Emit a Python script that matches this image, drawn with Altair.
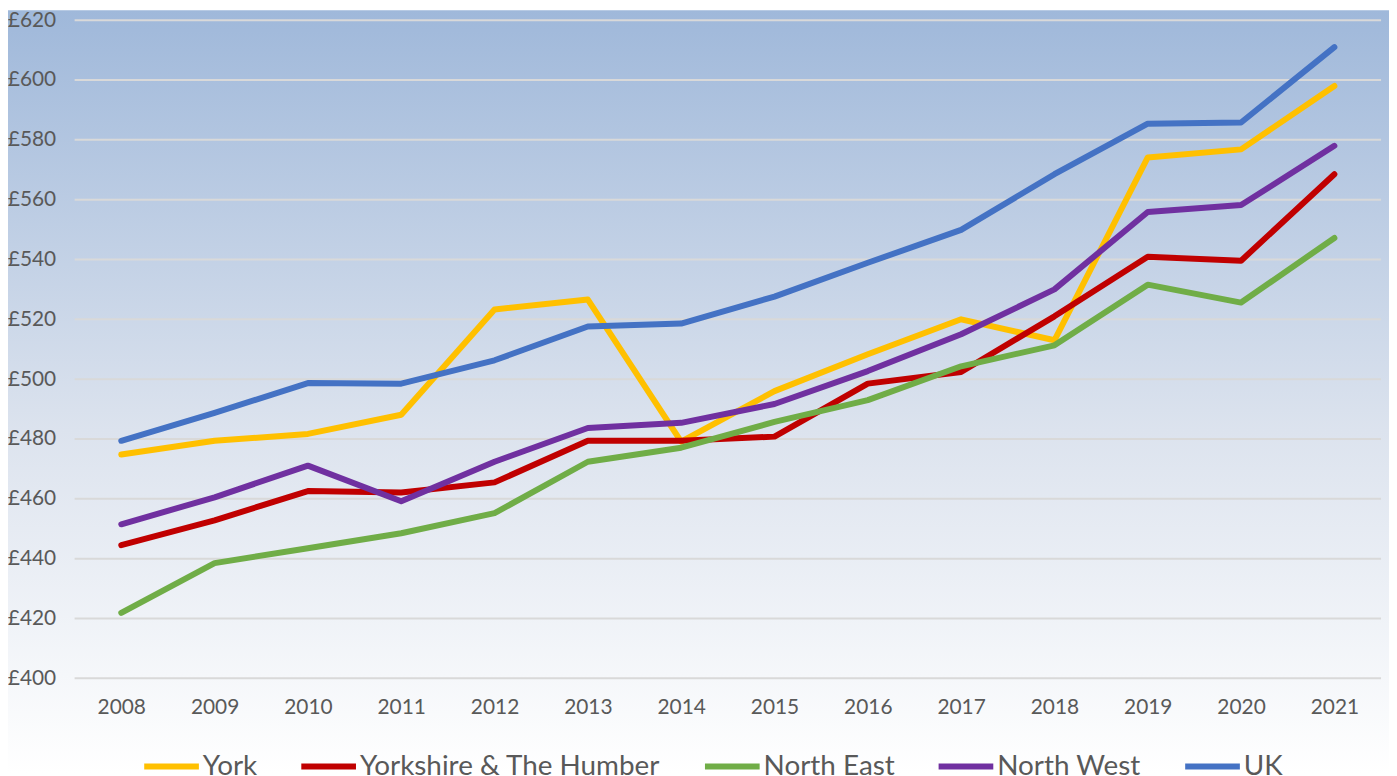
import altair as alt
import pandas as pd

years = [str(y) for y in range(2008, 2022)]
series_names = ["York", "Yorkshire & The Humber", "North East", "North West", "UK"]
york = [474.8, 479.4, 481.7, 488.1, 523.3, 526.6, 479.1, 496.0, 508.3, 520.0, 513.0, 574.1, 576.8, 598.0]
yorkshire = [444.5, 452.8, 462.6, 462.1, 465.5, 479.4, 479.4, 480.8, 498.5, 502.4, 521.0, 540.9, 539.6, 568.5]
north_east = [421.9, 438.5, 443.5, 448.5, 455.2, 472.4, 477.1, 485.7, 493.0, 504.3, 511.3, 531.6, 525.6, 547.2]
north_west = [451.5, 460.5, 471.1, 459.2, 472.4, 483.7, 485.4, 491.7, 502.7, 515.0, 530.0, 555.9, 558.2, 578.0]
uk = [479.4, 488.7, 498.7, 498.5, 506.3, 517.6, 518.6, 527.6, 538.9, 549.9, 568.5, 585.4, 585.8, 611.0]
colors = ["#FFC000", "#C00000", "#70AD47", "#7030A0", "#4472C4"]
y_ticks = list(range(400, 621, 20))

rows = []
for name, vals in zip(series_names, [york, yorkshire, north_east, north_west, uk]):
    for yr, v in zip(years, vals):
        rows.append({"year": yr, "series": name, "value": v})
df = pd.DataFrame(rows)
grid_df = pd.DataFrame({"value": y_ticks})

W, H = 1314, 662
FONT = "Lato"
TXT = "#595959"

y_scale = alt.Scale(domain=[400, 620], nice=False, zero=False)
y_axis = alt.Axis(title=None, values=y_ticks, labelExpr="'£' + datum.value",
                  domain=False, ticks=False, grid=False,
                  labelFont=FONT, labelFontSize=21, labelColor=TXT,
                  labelPadding=19, zindex=1)

bg = alt.Chart(pd.DataFrame({"a": [0]})).mark_rect(
    clip=False,
    color=alt.Gradient(
        gradient="linear",
        stops=[alt.GradientStop(color="#9FB8DA", offset=0),
               alt.GradientStop(color="#DCE3EE", offset=0.55),
               alt.GradientStop(color="#FFFFFF", offset=1)],
        x1=0, x2=0, y1=0, y2=1,
    ),
).encode(x=alt.value(-70), x2=alt.value(W + 20), y=alt.value(-10), y2=alt.value(H + 96))

grid = alt.Chart(grid_df).mark_rule(color="#D9D9D9", strokeWidth=2).encode(
    y=alt.Y("value:Q", scale=y_scale, axis=y_axis)
)

layers = [bg, grid]
for name in series_names:
    layers.append(
        alt.Chart(df).transform_filter(alt.datum.series == name).mark_line(
            strokeWidth=6, strokeJoin="round", strokeCap="round"
        ).encode(
            x=alt.X("year:O", scale=alt.Scale(padding=0.5), sort=years,
                    axis=alt.Axis(title=None, labelAngle=0, domain=False, ticks=False, grid=False,
                                  labelFont=FONT, labelFontSize=21, labelColor=TXT,
                                  labelPadding=18, zindex=1)),
            y=alt.Y("value:Q", scale=y_scale, axis=y_axis),
            color=alt.Color("series:N", scale=alt.Scale(domain=series_names, range=colors),
                            legend=alt.Legend(title=None, orient="none", legendX=67, legendY=720,
                                              direction="horizontal", columns=5,
                                              symbolType="stroke", symbolSize=3025,
                                              symbolStrokeWidth=6, labelFont=FONT,
                                              labelFontSize=28, labelColor=TXT, labelLimit=0,
                                              labelOffset=1, columnPadding=32)),
        )
    )

chart = alt.layer(*layers).properties(
    width=W, height=H,
    autosize=alt.AutoSizeParams(type="none"),
    padding={"left": 67, "top": 10, "right": 8, "bottom": 96},
).configure_view(stroke=None).configure(background="white")

chart.save("out.html", embed_options={"renderer": "svg", "actions": False})
